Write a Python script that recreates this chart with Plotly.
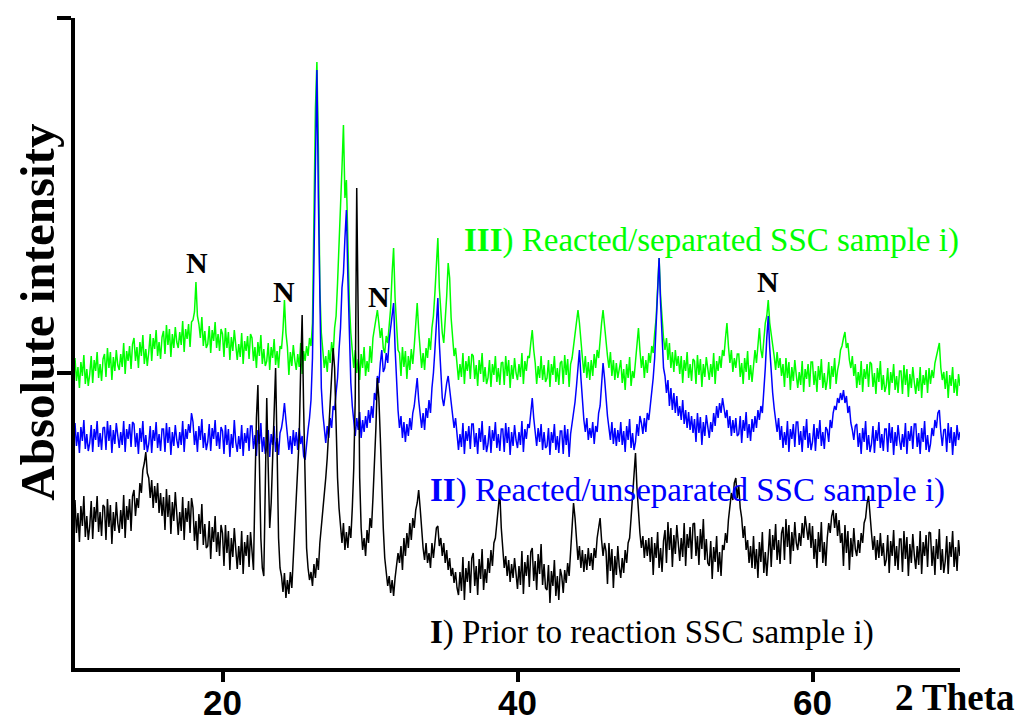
import plotly.graph_objects as go

# 2-theta sampling grid (degrees), 0.1 deg steps from 10 to 70
two_theta = [round(10 + 0.1 * i, 1) for i in range(601)]

# Intensity values (arbitrary units), one row per degree
III_separated = [
    310, 287, 301, 280, 306, 292, 313, 284, 299, 282,   # 10
    294, 312, 285, 308, 297, 316, 290, 304, 287, 309,   # 11
    314, 291, 320, 300, 316, 288, 311, 297, 318, 303,   # 12
    298, 314, 301, 325, 294, 317, 307, 322, 299, 324,   # 13
    330, 307, 321, 300, 326, 312, 333, 304, 319, 302,   # 14
    316, 334, 307, 330, 319, 338, 312, 326, 309, 331,   # 15
    337, 314, 343, 323, 339, 311, 334, 320, 341, 326,   # 16
    320, 336, 323, 347, 316, 339, 329, 344, 321, 346,   # 17
    348, 356, 386, 352, 344, 330, 351, 322, 337, 320,   # 18
    324, 342, 315, 338, 327, 346, 320, 334, 317, 339,   # 19
    334, 311, 340, 320, 336, 308, 331, 317, 338, 323,   # 20
    308, 324, 311, 335, 304, 327, 317, 332, 309, 334,   # 21
    330, 307, 321, 300, 326, 312, 333, 304, 319, 302,   # 22
    307, 325, 298, 321, 310, 329, 303, 317, 300, 322,   # 23
    319, 338, 368, 335, 321, 293, 316, 302, 323, 308,   # 24
    298, 314, 301, 325, 294, 317, 307, 322, 312, 330,   # 25
    322, 345, 470, 560, 606, 520, 380, 335, 318, 300,   # 26
    312, 296, 318, 305, 326, 312, 340, 352, 385, 420,   # 27
    450, 500, 543, 470, 488, 420, 365, 335, 318, 300,   # 28
    318, 295, 309, 288, 314, 300, 321, 292, 307, 296,   # 29
    322, 305, 330, 338, 350, 358, 345, 330, 340, 320,   # 30
    315, 332, 325, 345, 360, 395, 420, 370, 340, 318,   # 31
    315, 292, 321, 301, 317, 289, 312, 298, 319, 304,   # 32
    322, 340, 365, 338, 318, 300, 315, 298, 320, 310,   # 33
    330, 318, 340, 352, 375, 410, 430, 380, 350, 335,   # 34
    325, 345, 372, 405, 390, 350, 330, 312, 320, 302,   # 35
    288, 304, 291, 315, 284, 307, 297, 312, 289, 314,   # 36
    312, 289, 303, 282, 308, 294, 315, 286, 301, 284,   # 37
    290, 308, 281, 304, 293, 312, 286, 300, 283, 305,   # 38
    306, 283, 312, 292, 308, 280, 303, 289, 310, 295,   # 39
    288, 304, 291, 315, 284, 307, 297, 312, 310, 325,   # 40
    338, 318, 305, 284, 302, 290, 312, 288, 303, 286,   # 41
    290, 308, 281, 304, 293, 312, 286, 300, 283, 305,   # 42
    307, 284, 313, 293, 309, 281, 304, 310, 322, 330,   # 43
    342, 358, 345, 322, 310, 295, 312, 290, 306, 288,   # 44
    308, 292, 314, 300, 318, 310, 330, 345, 358, 340,   # 45
    325, 312, 300, 316, 292, 308, 288, 305, 290, 302,   # 46
    308, 285, 299, 278, 304, 290, 311, 282, 297, 290,   # 47
    305, 322, 340, 318, 300, 312, 290, 308, 295, 315,   # 48
    305, 322, 315, 335, 350, 380, 410, 372, 345, 330,   # 49
    318, 330, 308, 325, 300, 316, 296, 318, 302, 312,   # 50
    294, 312, 285, 308, 297, 316, 290, 304, 287, 309,   # 51
    307, 284, 313, 293, 309, 281, 304, 291, 311, 296,   # 52
    288, 304, 291, 315, 284, 307, 297, 312, 300, 318,   # 53
    312, 330, 345, 322, 305, 318, 296, 310, 300, 314,   # 54
    314, 291, 305, 284, 310, 296, 317, 288, 303, 286,   # 55
    302, 318, 305, 325, 340, 318, 310, 328, 345, 352,   # 56
    368, 345, 335, 320, 312, 298, 316, 300, 310, 292,   # 57
    304, 281, 310, 290, 306, 278, 301, 287, 308, 293,   # 58
    280, 296, 283, 307, 276, 299, 289, 304, 281, 306,   # 59
    306, 283, 297, 276, 302, 288, 309, 280, 295, 278,   # 60
    288, 306, 279, 302, 291, 310, 284, 298, 305, 318,   # 61
    322, 330, 336, 320, 325, 308, 300, 312, 292, 304,   # 62
    280, 296, 283, 307, 276, 299, 289, 304, 281, 306,   # 63
    304, 281, 295, 274, 300, 286, 307, 278, 293, 276,   # 64
    282, 300, 273, 296, 285, 304, 278, 292, 275, 297,   # 65
    297, 274, 303, 283, 299, 271, 294, 280, 301, 286,   # 66
    274, 290, 277, 301, 270, 293, 283, 298, 275, 300,   # 67
    284, 298, 290, 305, 312, 320, 325, 300, 288, 296,   # 68
    279, 297, 270, 293, 282, 301, 275, 289, 272, 294,   # 69
    282,                                                 # 70
]

II_unseparated = [
    245, 222, 236, 215, 241, 227, 248, 219, 234, 217,   # 10
    225, 243, 216, 239, 228, 247, 221, 235, 218, 240,   # 11
    241, 218, 247, 227, 243, 215, 238, 224, 245, 230,   # 12
    220, 236, 223, 247, 216, 239, 229, 244, 221, 246,   # 13
    244, 221, 235, 214, 240, 226, 247, 218, 233, 216,   # 14
    224, 242, 215, 238, 227, 246, 220, 234, 217, 239,   # 15
    239, 216, 245, 225, 241, 213, 236, 222, 243, 228,   # 16
    220, 236, 223, 247, 216, 239, 229, 244, 235, 255,   # 17
    246, 223, 237, 216, 242, 228, 249, 220, 235, 218,   # 18
    226, 244, 217, 240, 229, 248, 222, 236, 219, 241,   # 19
    237, 214, 243, 223, 239, 211, 234, 220, 248, 226,   # 20
    216, 232, 219, 243, 212, 235, 225, 240, 217, 242,   # 21
    242, 219, 233, 212, 238, 224, 245, 216, 231, 214,   # 22
    220, 238, 211, 234, 223, 242, 216, 230, 213, 235,   # 23
    240, 250, 265, 248, 236, 218, 232, 214, 238, 222,   # 24
    236, 218, 240, 224, 232, 212, 208, 226, 238, 250,   # 25
    268, 310, 420, 530, 598, 470, 345, 280, 255, 238,   # 26
    225, 242, 230, 250, 240, 262, 258, 275, 290, 318,   # 27
    340, 380, 395, 430, 458, 390, 320, 285, 262, 245,   # 28
    232, 250, 238, 256, 230, 248, 236, 252, 240, 258,   # 29
    245, 262, 250, 275, 268, 292, 285, 305, 318, 296,   # 30
    300, 315, 305, 328, 340, 358, 365, 320, 285, 258,   # 31
    240, 252, 230, 246, 226, 244, 232, 250, 238, 255,   # 32
    262, 275, 290, 268, 250, 240, 255, 238, 260, 250,   # 33
    268, 255, 280, 295, 318, 350, 370, 325, 295, 270,   # 34
    262, 275, 285, 292, 280, 265, 255, 240, 250, 232,   # 35
    218, 234, 221, 245, 214, 237, 227, 242, 219, 244,   # 36
    244, 221, 235, 214, 240, 226, 247, 218, 233, 216,   # 37
    224, 242, 215, 238, 227, 246, 220, 234, 217, 239,   # 38
    239, 216, 245, 225, 241, 213, 236, 222, 243, 228,   # 39
    220, 236, 223, 247, 216, 239, 229, 244, 240, 255,   # 40
    270, 250, 238, 222, 240, 226, 244, 218, 236, 220,   # 41
    222, 240, 213, 236, 225, 244, 218, 232, 215, 237,   # 42
    237, 214, 243, 223, 239, 211, 234, 245, 252, 266,   # 43
    282, 300, 318, 290, 265, 248, 236, 250, 228, 240,   # 44
    230, 246, 224, 242, 236, 255, 262, 285, 305, 290,   # 45
    268, 252, 240, 228, 246, 224, 240, 222, 238, 226,   # 46
    246, 223, 237, 216, 242, 228, 249, 220, 235, 218,   # 47
    226, 244, 232, 252, 245, 234, 250, 236, 255, 248,   # 48
    262, 275, 290, 310, 340, 380, 410, 365, 330, 300,   # 49
    292, 275, 288, 262, 280, 258, 275, 255, 272, 252,   # 50
    262, 248, 268, 244, 258, 240, 256, 238, 252, 235,   # 51
    249, 226, 255, 235, 251, 223, 246, 232, 253, 238,   # 52
    230, 246, 236, 255, 242, 262, 250, 265, 255, 270,   # 53
    262, 250, 258, 240, 252, 232, 248, 235, 250, 232,   # 54
    234, 252, 225, 248, 237, 256, 230, 244, 227, 249,   # 55
    236, 252, 240, 258, 248, 262, 255, 275, 300, 330,   # 56
    352, 320, 295, 275, 260, 248, 236, 250, 228, 242,   # 57
    220, 236, 223, 247, 216, 239, 229, 244, 221, 246,   # 58
    246, 223, 237, 216, 242, 228, 249, 220, 235, 218,   # 59
    226, 244, 217, 240, 229, 248, 222, 236, 219, 241,   # 60
    238, 226, 248, 240, 255, 262, 258, 270, 265, 275,   # 61
    268, 278, 265, 272, 255, 262, 245, 238, 228, 242,   # 62
    244, 221, 235, 214, 240, 226, 247, 218, 233, 216,   # 63
    224, 242, 215, 238, 227, 246, 220, 234, 217, 239,   # 64
    239, 216, 245, 225, 241, 213, 236, 222, 243, 228,   # 65
    218, 234, 221, 245, 214, 237, 227, 242, 219, 244,   # 66
    244, 221, 235, 214, 240, 226, 247, 218, 233, 216,   # 67
    224, 240, 232, 248, 240, 255, 258, 236, 222, 238,   # 68
    239, 216, 245, 225, 241, 213, 236, 222, 243, 228,   # 69
    236,                                                 # 70
]

I_prior = [
    168, 135, 155, 126, 162, 142, 172, 131, 152, 128,   # 10
    142, 167, 129, 161, 146, 172, 136, 156, 132, 163,   # 11
    161, 128, 169, 141, 163, 124, 156, 137, 166, 145,   # 12
    135, 158, 139, 173, 130, 162, 148, 169, 137, 172,   # 13
    178, 152, 170, 160, 185, 175, 198, 205, 216, 195,   # 14
    190, 170, 188, 160, 182, 165, 185, 155, 175, 152,   # 15
    171, 138, 179, 151, 173, 134, 166, 147, 176, 155,   # 16
    133, 156, 137, 171, 128, 160, 146, 167, 135, 170,   # 17
    160, 127, 147, 118, 154, 134, 164, 123, 144, 120,   # 18
    122, 147, 109, 141, 126, 152, 116, 136, 112, 143,   # 19
    135, 102, 143, 115, 137, 98, 130, 111, 140, 119,    # 20
    99, 122, 103, 137, 94, 126, 112, 133, 101, 136,     # 21
    115, 98, 180, 250, 283, 200, 130, 100, 92, 180,     # 22
    270, 200, 140, 165, 210, 260, 300, 220, 130, 100,   # 23
    92, 76, 95, 70, 88, 74, 96, 80, 110, 140,           # 24
    160, 190, 230, 300, 353, 260, 180, 120, 100, 88,    # 25
    96, 82, 104, 90, 110, 98, 125, 140, 158, 175,       # 26
    190, 210, 235, 265, 290, 320, 300, 240, 190, 160,   # 27
    140, 125, 145, 118, 136, 120, 142, 130, 160, 200,   # 28
    270, 480, 350, 190, 140, 118, 130, 112, 138, 125,   # 29
    150, 140, 170, 200, 240, 290, 270, 230, 180, 140,   # 30
    110, 95, 82, 92, 75, 88, 72, 90, 102, 115,          # 31
    105, 122, 98, 130, 112, 135, 120, 145, 128, 150,    # 32
    140, 158, 165, 178, 160, 135, 120, 108, 125, 105,   # 33
    115, 100, 125, 110, 130, 140, 142, 122, 130, 112,   # 34
    125, 105, 118, 98, 110, 92, 100, 85, 96, 80,        # 35
    73, 96, 77, 111, 68, 100, 86, 107, 75, 110,         # 36
    115, 82, 102, 73, 109, 89, 119, 78, 99, 85,         # 37
    110, 95, 118, 102, 125, 130, 145, 160, 176, 140,    # 38
    118, 100, 112, 92, 108, 86, 104, 90, 110, 95,       # 39
    79, 102, 83, 117, 74, 106, 92, 113, 81, 116,        # 40
    120, 87, 107, 78, 114, 94, 124, 83, 104, 80,        # 41
    78, 103, 65, 97, 82, 108, 72, 92, 68, 99,           # 42
    92, 75, 98, 85, 105, 92, 115, 135, 165, 150,        # 43
    125, 108, 122, 100, 118, 96, 114, 98, 120, 102,     # 44
    115, 98, 120, 110, 130, 138, 150, 128, 112, 125,    # 45
    117, 84, 125, 97, 119, 80, 112, 93, 122, 101,       # 46
    90, 110, 95, 118, 105, 125, 130, 150, 175, 200,     # 47
    215, 180, 150, 135, 120, 132, 110, 128, 112, 130,   # 48
    106, 131, 93, 125, 110, 136, 100, 120, 96, 127,     # 49
    138, 105, 146, 118, 140, 101, 133, 114, 143, 122,   # 50
    107, 130, 111, 145, 102, 134, 120, 141, 109, 144,   # 51
    145, 112, 132, 103, 139, 119, 149, 108, 129, 105,   # 52
    102, 127, 89, 121, 106, 132, 96, 116, 92, 123,      # 53
    118, 135, 125, 148, 160, 175, 168, 185, 190, 170,   # 54
    182, 160, 150, 130, 142, 118, 128, 105, 122, 100,   # 55
    132, 99, 119, 90, 126, 106, 136, 95, 116, 92,       # 56
    114, 139, 101, 133, 118, 144, 108, 128, 104, 135,   # 57
    141, 108, 149, 121, 143, 104, 136, 117, 146, 125,   # 58
    118, 135, 122, 145, 130, 152, 140, 128, 145, 120,   # 59
    142, 109, 129, 100, 136, 116, 146, 105, 126, 102,   # 60
    130, 145, 135, 152, 158, 140, 155, 132, 148, 125,   # 61
    135, 102, 143, 115, 137, 98, 130, 111, 140, 119,    # 62
    112, 128, 115, 135, 125, 145, 150, 165, 172, 150,   # 63
    135, 118, 132, 108, 128, 110, 135, 112, 125, 102,   # 64
    108, 133, 95, 127, 112, 138, 102, 122, 98, 129,     # 65
    129, 96, 137, 109, 131, 92, 124, 105, 134, 113,     # 66
    99, 122, 103, 137, 94, 126, 112, 133, 101, 136,     # 67
    135, 102, 122, 93, 129, 109, 139, 98, 119, 95,      # 68
    107, 132, 94, 126, 111, 137, 101, 121, 97, 128,     # 69
    112,                                                 # 70
]

for arr in (III_separated, II_unseparated, I_prior):
    assert len(arr) == len(two_theta), len(arr)

x_ticks = [20, 40, 60]
y_ticks = [295, 650]

series = [
    ("III", III_separated, "#00FF00"),
    ("II", II_unseparated, "#0000FF"),
    ("I", I_prior, "#000000"),
]

fig = go.Figure()
for name, vals, col in series:
    fig.add_trace(go.Scatter(x=two_theta, y=vals, mode="lines", name=name,
                             line=dict(color=col, width=1.5)))

serif = "Liberation Serif, Times New Roman, serif"
label_size = 33

annotations = [
    dict(x=36.27, y=428, text="<b>III</b>) Reacted/separated SSC sample i)",
         font=dict(family=serif, size=label_size, color="#00FF00")),
    dict(x=33.9, y=178, text="<b>II</b>) Reacted/unseparated SSC sample i)",
         font=dict(family=serif, size=label_size, color="#0000FF")),
    dict(x=33.9, y=36, text="<b>I</b>) Prior to reaction SSC sample i)",
         font=dict(family=serif, size=label_size, color="#000000")),
]
for a in annotations:
    a.update(xref="x", yref="y", xanchor="left", yanchor="middle", showarrow=False)

n_marks = [(18.3, 406), (24.2, 377), (30.58, 372), (57.0, 387)]
for nx, ny in n_marks:
    annotations.append(dict(x=nx, y=ny, xref="x", yref="y", text="<b>N</b>",
                            showarrow=False, xanchor="center", yanchor="middle",
                            font=dict(family=serif, size=30, color="#000000")))

annotations.append(dict(x=0.9243, y=-0.045, xref="paper", yref="paper",
                        text="<b>2 Theta</b>", showarrow=False,
                        xanchor="left", yanchor="middle",
                        font=dict(family=serif, size=37, color="#000000")))
annotations.append(dict(x=-0.042, y=0.548, xref="paper", yref="paper",
                        text="<b>Absolute intensity</b>", showarrow=False,
                        textangle=-90, xanchor="center", yanchor="middle",
                        font=dict(family=serif, size=49, color="#000000")))

# the page body adds an 8 px offset, so the figure is drawn 8 px smaller
fig.update_layout(
    width=1015, height=715,
    margin=dict(l=67, r=63, t=10, b=55, autoexpand=False),
    plot_bgcolor="white", paper_bgcolor="white",
    showlegend=False,
    annotations=annotations,
    xaxis=dict(range=[10, 70], tickvals=x_ticks, ticks="outside", ticklen=10,
               tickwidth=4, tickcolor="black", showline=True, linewidth=4,
               linecolor="black", showgrid=False, zeroline=False, automargin=False,
               ticklabelstandoff=-9,
               tickfont=dict(family="Liberation Sans, Arial, sans-serif",
                             size=35, color="black", weight="bold")),
    yaxis=dict(range=[0, 650], tickvals=y_ticks, ticktext=["", ""], ticks="outside",
               ticklen=14, tickwidth=4, tickcolor="black", showline=True,
               linewidth=4, linecolor="black", showgrid=False, zeroline=False,
               automargin=False),
)

fig.write_html("out.html")
